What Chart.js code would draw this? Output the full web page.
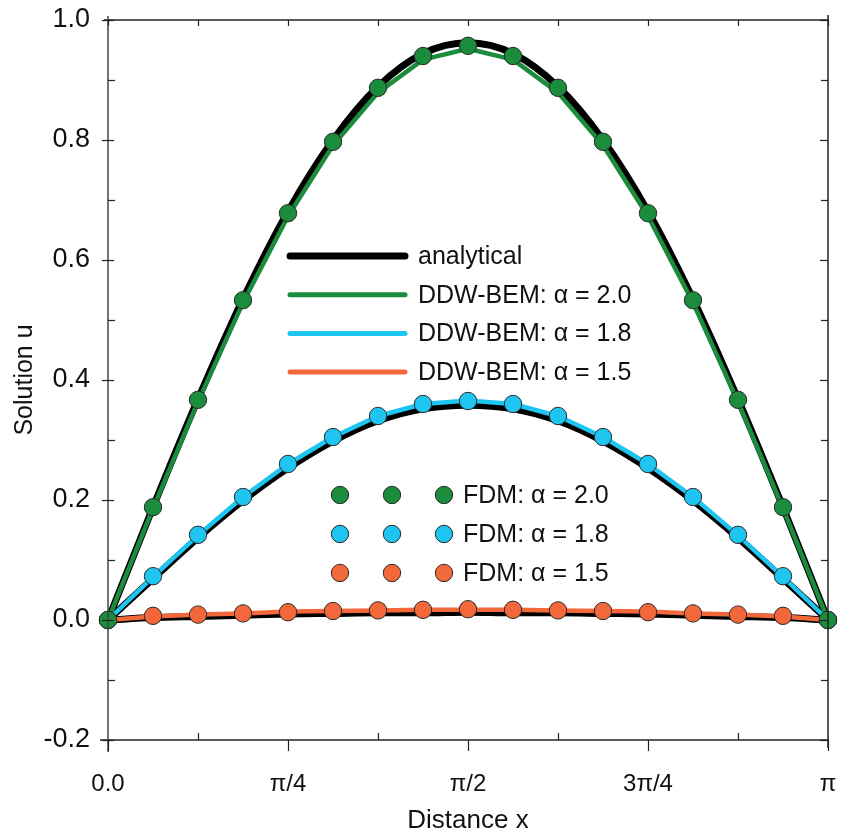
<!DOCTYPE html>
<html>
<head>
<meta charset="utf-8">
<script src="https://cdn.jsdelivr.net/npm/chart.js@4"></script>
<style>
  html, body { margin: 0; padding: 0; background: #fff; }
  #wrap { width: 844px; height: 840px; }
</style>
</head>
<body>
<div id="wrap"><canvas id="c" width="844" height="840"></canvas></div>
<script>
// x positions in units of pi
const xPos = [0, 0.0625, 0.125, 0.1875, 0.25, 0.3125, 0.375, 0.4375, 0.5, 0.5625, 0.625, 0.6875, 0.75, 0.8125, 0.875, 0.9375, 1];
const xTickLabels = ['0.0', 'π/4', 'π/2', '3π/4', 'π'];

// analytical solutions
const exact20 = [0, 0.188, 0.368, 0.535, 0.681, 0.800, 0.889, 0.944, 0.962, 0.944, 0.889, 0.800, 0.681, 0.535, 0.368, 0.188, 0];
const exact18 = [0, 0.069, 0.137, 0.199, 0.253, 0.298, 0.332, 0.352, 0.358, 0.352, 0.332, 0.298, 0.253, 0.199, 0.137, 0.069, 0];
const exact15 = [0, 0.004, 0.006, 0.008, 0.010, 0.011, 0.012, 0.012, 0.013, 0.012, 0.012, 0.011, 0.010, 0.008, 0.006, 0.004, 0];

// DDW-BEM solutions
const bem20 = [0, 0.186, 0.364, 0.529, 0.673, 0.791, 0.879, 0.934, 0.952, 0.934, 0.879, 0.791, 0.673, 0.529, 0.364, 0.186, 0];
const bem18 = [0, 0.072, 0.141, 0.205, 0.260, 0.305, 0.340, 0.360, 0.366, 0.360, 0.340, 0.305, 0.260, 0.205, 0.141, 0.072, 0];
const bem15 = [0, 0.006, 0.009, 0.011, 0.014, 0.015, 0.016, 0.017, 0.017, 0.017, 0.016, 0.015, 0.014, 0.011, 0.009, 0.006, 0];

// FDM solutions
const fdm20 = [0, 0.188, 0.367, 0.533, 0.678, 0.797, 0.887, 0.940, 0.957, 0.940, 0.887, 0.797, 0.678, 0.533, 0.367, 0.188, 0];
const fdm18 = [0, 0.073, 0.142, 0.205, 0.260, 0.305, 0.340, 0.360, 0.365, 0.360, 0.340, 0.305, 0.260, 0.205, 0.142, 0.073, 0];
const fdm15 = [0, 0.007, 0.009, 0.011, 0.013, 0.015, 0.016, 0.017, 0.018, 0.017, 0.016, 0.015, 0.013, 0.011, 0.009, 0.007, 0];

const lineLabels = ['analytical', 'DDW-BEM: α = 2.0', 'DDW-BEM: α = 1.8', 'DDW-BEM: α = 1.5'];
const fdmLabels = ['FDM: α = 2.0', 'FDM: α = 1.8', 'FDM: α = 1.5'];

const GREEN = '#1a8c3c', BLUE = '#1ec5f0', ORANGE = '#f2683a', EDGE = '#2b2b2b';
const FONT = "'Liberation Sans', Arial, sans-serif";

const pts = arr => xPos.map((x, i) => ({ x: x, y: arr[i] }));

function exactDs(arr) {
  return { data: pts(arr), borderColor: '#000', borderWidth: 7, pointRadius: 0,
    cubicInterpolationMode: 'monotone', order: 3, clip: false, borderCapStyle: 'round' };
}
function bemDs(arr, c) {
  return { data: pts(arr), borderColor: c, borderWidth: 4.5, pointRadius: 0, tension: 0,
    order: 2, clip: false, borderJoinStyle: 'round', borderCapStyle: 'round' };
}
function fdmDs(arr, c) {
  return { data: pts(arr), showLine: false, pointRadius: 8.7, pointBackgroundColor: c,
    pointBorderColor: EDGE, pointBorderWidth: 1, order: 1, clip: false };
}

const framePlugin = {
  id: 'frame',
  afterDraw(chart) {
    const ctx = chart.ctx;
    const xs = chart.scales.x, ys = chart.scales.y;
    const L = xs.getPixelForValue(0), R = xs.getPixelForValue(1);
    const T = ys.getPixelForValue(1.0), B = ys.getPixelForValue(-0.2);
    ctx.save();
    ctx.lineCap = 'butt';
    ctx.strokeStyle = '#444';
    ctx.lineWidth = 1.5;
    ctx.beginPath(); ctx.moveTo(L, T - 4); ctx.lineTo(L, B + 12); ctx.stroke();
    ctx.strokeStyle = '#222';
    ctx.beginPath(); ctx.moveTo(L - 8, B); ctx.lineTo(R + 1, B); ctx.stroke();
    ctx.beginPath(); ctx.moveTo(L - 4, T); ctx.lineTo(R + 1, T); ctx.stroke();
    ctx.beginPath(); ctx.moveTo(R, T - 5); ctx.lineTo(R, B + 8); ctx.stroke();
    ctx.lineWidth = 1.2;
    for (let k = 0; k <= 12; k++) {
      const v = -0.2 + k * 0.1;
      const y = Math.round(ys.getPixelForValue(v)) + 0.5;
      const major = k % 2 === 0;
      ctx.beginPath();
      if (major) { ctx.moveTo(L - 6, y); ctx.lineTo(L + 6, y); }
      else { ctx.moveTo(L, y); ctx.lineTo(L + 7, y); }
      ctx.stroke();
      ctx.beginPath(); ctx.moveTo(R, y); ctx.lineTo(R - (major ? 8 : 7), y); ctx.stroke();
    }
    for (let k = 0; k <= 8; k++) {
      const x = Math.round(xs.getPixelForValue(k / 8)) + 0.5;
      const major = k % 2 === 0;
      ctx.beginPath();
      if (major) { ctx.moveTo(x, B); ctx.lineTo(x, B + 11); }
      else { ctx.moveTo(x, B); ctx.lineTo(x, B - 7); }
      ctx.stroke();
      ctx.beginPath(); ctx.moveTo(x, T); ctx.lineTo(x, T + 6); ctx.stroke();
    }
    // legend (lines)
    const lineStyles = [['#000', 7], [GREEN, 5], [BLUE, 5], [ORANGE, 5]];
    const ly0 = T + 236, ldy = 38.7;
    const lx0 = L + 182, lx1 = L + 297, tx = L + 310;
    ctx.font = '25px ' + FONT;
    ctx.textBaseline = 'middle';
    ctx.textAlign = 'left';
    ctx.lineCap = 'round';
    lineLabels.forEach((lab, i) => {
      const y = ly0 + i * ldy;
      ctx.strokeStyle = lineStyles[i][0];
      ctx.lineWidth = lineStyles[i][1];
      ctx.beginPath(); ctx.moveTo(lx0, y); ctx.lineTo(lx1, y); ctx.stroke();
      ctx.fillStyle = '#111';
      ctx.fillText(lab, tx, y + 1);
    });
    // legend (markers)
    const fcols = [GREEN, BLUE, ORANGE];
    const fy0 = T + 475, fdy = 39;
    const mx = [L + 232, L + 284, L + 336];
    fdmLabels.forEach((lab, i) => {
      const y = fy0 + i * fdy;
      mx.forEach(x => {
        ctx.beginPath(); ctx.arc(x, y, 8.7, 0, Math.PI * 2);
        ctx.fillStyle = fcols[i]; ctx.fill();
        ctx.lineWidth = 1; ctx.strokeStyle = EDGE; ctx.stroke();
      });
      ctx.fillStyle = '#111';
      ctx.fillText(lab, L + 355, y + 1);
    });
    ctx.restore();
  }
};

new Chart(document.getElementById('c'), {
  type: 'line',
  data: {
    datasets: [
      fdmDs(fdm20, GREEN), fdmDs(fdm18, BLUE), fdmDs(fdm15, ORANGE),
      bemDs(bem20, GREEN), bemDs(bem18, BLUE), bemDs(bem15, ORANGE),
      exactDs(exact20), exactDs(exact18), exactDs(exact15)
    ]
  },
  options: {
    responsive: false,
    animation: false,
    events: [],
    layout: { padding: { top: 20, right: 16, left: 0, bottom: 0 } },
    plugins: { legend: { display: false }, tooltip: { enabled: false } },
    scales: {
      x: {
        type: 'linear', min: 0, max: 1,
        grid: { display: false }, border: { display: false },
        afterBuildTicks(s) { s.ticks = xTickLabels.map((_, i) => ({ value: i / 4 })); },
        afterFit(s) { s.height = 100; s.paddingLeft = 0; s.paddingRight = 0; },
        ticks: {
          padding: 22, color: '#111', maxRotation: 0, autoSkip: false,
          font: { family: FONT, size: 24 },
          callback: (v, i) => xTickLabels[i]
        },
        title: { display: true, text: 'Distance x', color: '#111',
          font: { family: FONT, size: 26 }, padding: { top: 4, bottom: 4 } }
      },
      y: {
        min: -0.2, max: 1.0,
        grid: { display: false }, border: { display: false },
        afterFit(s) { s.width = 108; s.paddingTop = 0; s.paddingBottom = 0; },
        ticks: {
          stepSize: 0.2, padding: 10, color: '#111',
          font: { family: FONT, size: 27 },
          callback: v => (Math.round(v * 10) / 10).toFixed(1)
        },
        title: { display: true, text: 'Solution u', color: '#111',
          font: { family: FONT, size: 25 }, padding: { top: 10, bottom: 10 } }
      }
    }
  },
  plugins: [framePlugin]
});
</script>
</body>
</html>
